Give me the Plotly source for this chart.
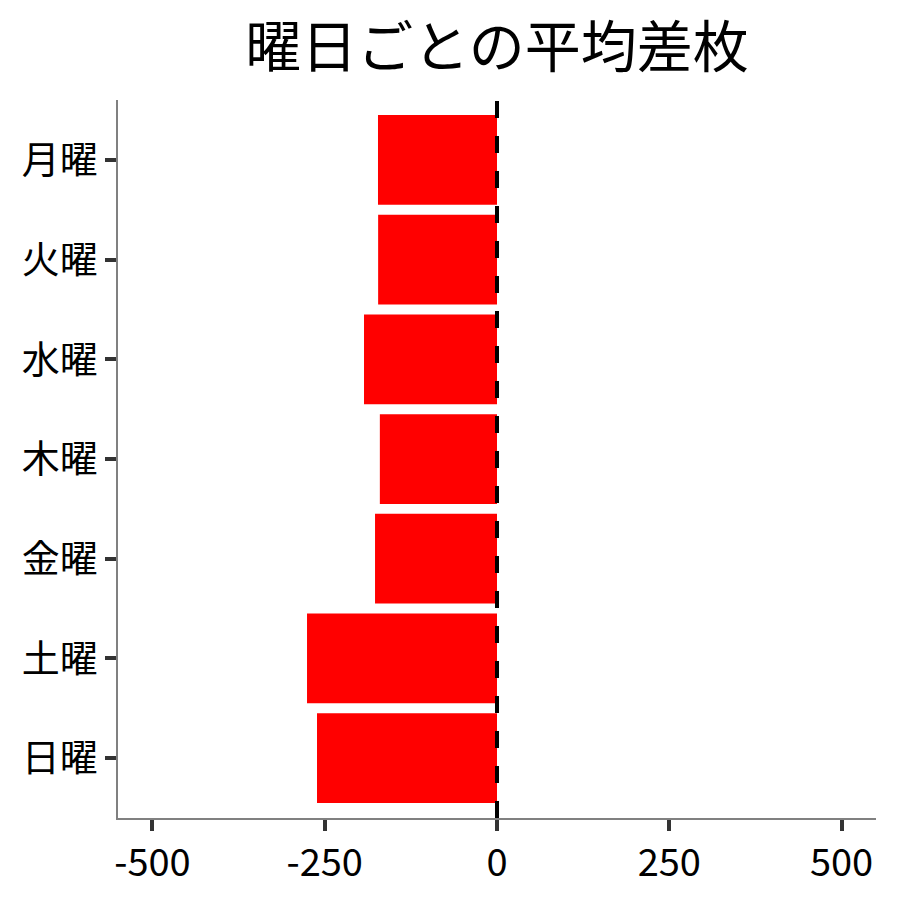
import plotly.graph_objects as go

# 曜日ごとの平均差枚
days = ["月曜", "火曜", "水曜", "木曜", "金曜", "土曜", "日曜"]
avg_diff = [-172.7, -172.5, -193.0, -170.0, -177.0, -275.7, -261.2]

x_ticks = [-500, -250, 0, 250, 500]

FONT = "Noto Sans CJK JP"

fig = go.Figure()
fig.add_trace(
    go.Bar(
        x=avg_diff,
        y=days,
        orientation="h",
        width=0.9,
        marker={"color": "#ff0000", "line": {"width": 0}},
        showlegend=False,
    )
)

# zero line
fig.add_shape(
    type="line",
    xref="x",
    yref="paper",
    x0=0,
    x1=0,
    y0=0,
    y1=1,
    line={"color": "black", "width": 4, "dash": "17px,18px"},
    layer="above",
)

fig.update_layout(
    width=900,
    height=900,
    margin={"l": 110, "r": 32, "t": 92, "b": 90},
    plot_bgcolor="white",
    paper_bgcolor="white",
    font={"family": FONT, "color": "black"},
    title={
        "text": "曜日ごとの平均差枚",
        "font": {"family": FONT, "size": 56, "color": "black"},
        "x": 0.5,
        "xref": "paper",
        "xanchor": "center",
        "y": 0.956,
        "yref": "container",
        "yanchor": "middle",
    },
)

fig.update_xaxes(
    range=[-550, 550],
    tickvals=x_ticks,
    ticktext=[str(v) for v in x_ticks],
    showgrid=False,
    zeroline=False,
    showline=True,
    linecolor="#808080",
    linewidth=1.5,
    ticks="outside",
    ticklen=11,
    tickwidth=4,
    tickcolor="#333333",
    tickfont={"family": FONT, "size": 38, "color": "black"},
)

fig.update_yaxes(
    type="category",
    categoryorder="array",
    categoryarray=days,
    range=[6.6, -0.6],
    showgrid=False,
    zeroline=False,
    showline=True,
    linecolor="#808080",
    linewidth=1.5,
    ticks="outside",
    ticklen=11,
    tickwidth=4,
    tickcolor="#333333",
    tickfont={"family": FONT, "size": 38, "color": "black"},
)

fig.write_html("out.html")
